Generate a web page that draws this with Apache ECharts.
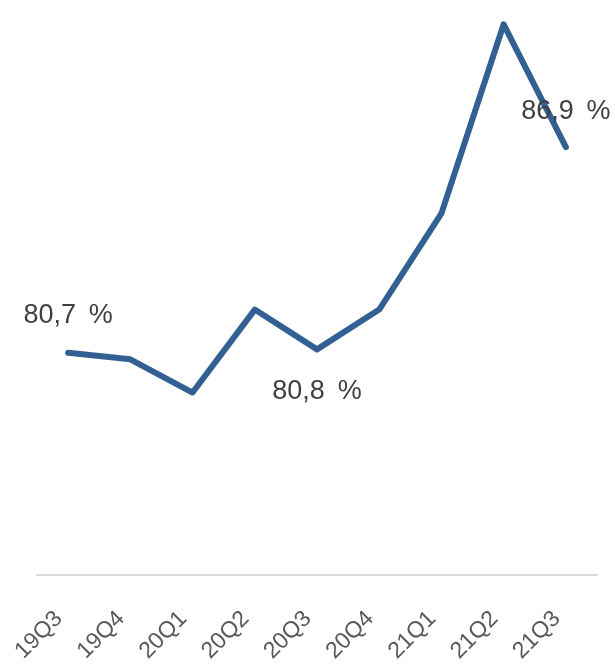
<!DOCTYPE html>
<html>
<head>
<meta charset="utf-8">
<script src="https://cdn.jsdelivr.net/npm/echarts@6/dist/echarts.min.js"></script>
<style>
  html, body { margin: 0; padding: 0; background: #ffffff; }
  #chart { width: 615px; height: 666px; }
</style>
</head>
<body>
<div id="chart"></div>
<script>
// Quarterly share (%), 19Q3 to 21Q3
const quarters = ['19Q3', '19Q4', '20Q1', '20Q2', '20Q3', '20Q4', '21Q1', '21Q2', '21Q3'];
const shares = [80.7, 80.5, 79.5, 82.0, 80.8, 82.0, 84.9, 90.6, 86.9];
// Points that carry a value label: position and gap from the line
const labelled = {
  0: { position: 'top', distance: 24 },
  4: { position: 'bottom', distance: 29 },
  8: { position: 'top', distance: 22 }
};

// Decimal comma, wide gap before the percent sign
const fmt = v => v.toFixed(1).replace('.', ',') + '\u00a0\u2009%';

const data = shares.map((v, i) => {
  const item = { value: v };
  const spec = labelled[i];
  if (spec) {
    item.label = {
      show: true,
      position: spec.position,
      distance: spec.distance,
      formatter: p => fmt(p.value),
      fontSize: 27,
      color: '#404040',
      fontFamily: 'Liberation Sans, Arial, sans-serif'
    };
  }
  return item;
});

const chart = echarts.init(document.getElementById('chart'), null, { renderer: 'canvas' });
chart.setOption({
  animation: false,
  grid: { left: 37, right: 18, top: 11, bottom: 91 },
  xAxis: {
    type: 'category',
    data: quarters,
    boundaryGap: true,
    axisLine: { show: true, lineStyle: { color: '#d9d9d9', width: 2 } },
    axisTick: { show: false },
    axisLabel: {
      rotate: 45,
      margin: 31,
      padding: [0, 13, 0, 0],
      fontSize: 23,
      color: '#595959',
      fontFamily: 'Liberation Sans, Arial, sans-serif',
      interval: 0
    }
  },
  yAxis: {
    type: 'value',
    min: 74,
    max: 91,
    show: false,
    splitLine: { show: false }
  },
  series: [{
    type: 'line',
    data: data,
    symbol: 'circle',
    symbolSize: 0,
    showAllSymbol: true,
    lineStyle: { color: '#336093', width: 6, cap: 'round', join: 'round' },
    itemStyle: { color: '#336093' },
    label: { show: false }
  }]
});
</script>
</body>
</html>
